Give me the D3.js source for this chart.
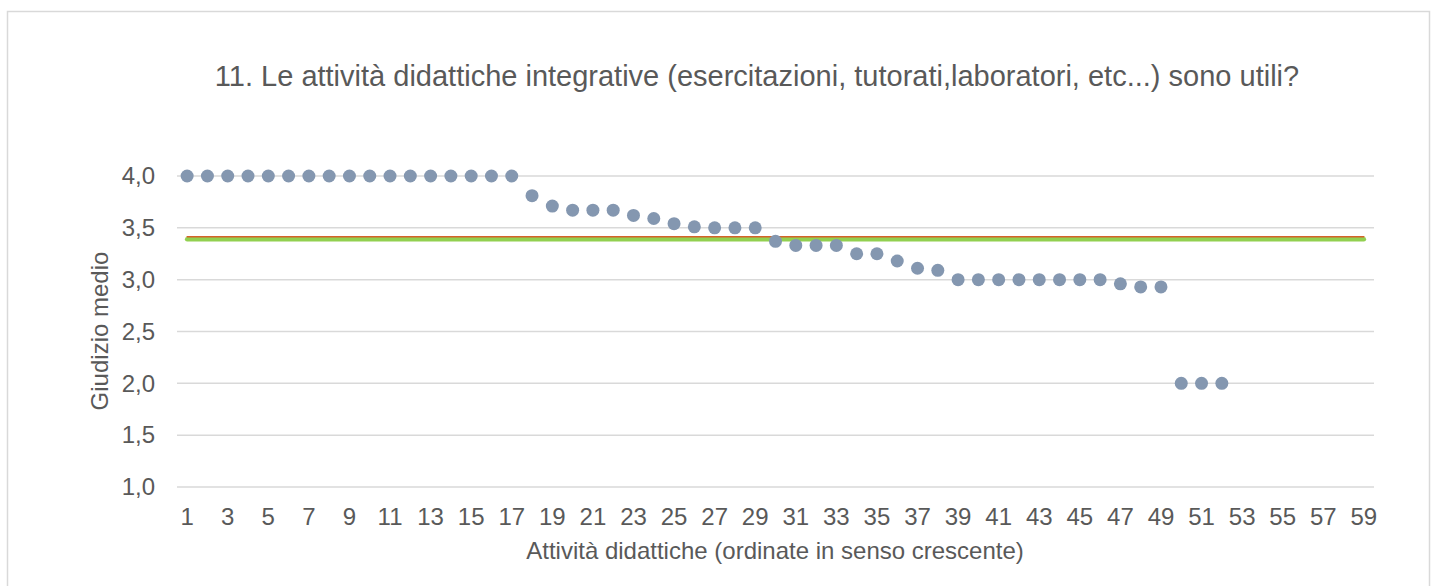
<!DOCTYPE html>
<html><head><meta charset="utf-8">
<script src="https://cdn.jsdelivr.net/npm/d3@7"></script>
<style>body{margin:0;background:#fff;}svg{display:block;font-family:"Liberation Sans",Arial,sans-serif;}</style>
</head><body>
<script>
const categories = d3.range(1, 60);
const scores = [4,4,4,4,4,4,4,4,4,4,4,4,4,4,4,4,4,3.81,3.71,3.67,3.67,3.67,3.62,3.59,3.54,3.51,3.5,3.5,3.5,3.37,3.33,3.33,3.33,3.25,3.25,3.18,3.11,3.09,3,3,3,3,3,3,3,3,2.96,2.93,2.93,2,2,2];
const meanRed = 3.415;
const meanGreen = 3.39;
const yTicks = [1,1.5,2,2.5,3,3.5,4];
const title = "11. Le attività didattiche integrative (esercitazioni, tutorati,laboratori, etc...) sono utili?";
const xTitle = "Attività didattiche (ordinate in senso crescente)";
const yTitle = "Giudizio medio";

const W = 1437, H = 586;
const svg = d3.select("body").append("svg").attr("width", W).attr("height", H);
svg.append("rect").attr("x", 7.5).attr("y", 11.5).attr("width", 1422).attr("height", 600)
  .attr("fill", "#fff").attr("stroke", "#d9d9d9").attr("stroke-width", 1.5);

const x = d3.scaleBand().domain(categories).range([177, 1374]);
const y = d3.scaleLinear().domain([1, 4]).range([487, 176]);
const cx = d => x(d) + x.bandwidth() / 2;

// gridlines
svg.append("g").selectAll("line").data(yTicks).join("line")
  .attr("x1", 177).attr("x2", 1374).attr("y1", d => y(d)).attr("y2", d => y(d))
  .attr("stroke", "#d9d9d9").attr("stroke-width", 1.5);

// y axis labels
const yAxis = svg.append("g").attr("transform", "translate(177,0)")
  .call(d3.axisLeft(y).tickValues(yTicks).tickSize(0).tickPadding(22)
    .tickFormat(d => d3.format(".1f")(d).replace(".", ",")));
yAxis.select(".domain").remove();
yAxis.selectAll("text").attr("fill", "#595959").style("font-size", "24px").style("font-family", "Liberation Sans, Arial, sans-serif");

// x axis labels
const xAxis = svg.append("g").attr("transform", "translate(0,487)")
  .call(d3.axisBottom(x).tickValues(categories.filter(d => d % 2 === 1)).tickSize(0).tickPadding(21));
xAxis.select(".domain").remove();
xAxis.selectAll("text").attr("fill", "#595959").style("font-size", "24px").style("font-family", "Liberation Sans, Arial, sans-serif");

// mean lines
const first = categories[0], last = categories[categories.length - 1];
svg.append("line").attr("x1", cx(first)).attr("x2", cx(last)).attr("y1", y(meanGreen)).attr("y2", y(meanGreen))
  .attr("stroke", "#92d050").attr("stroke-width", 4.5).attr("stroke-linecap", "round");
svg.append("line").attr("x1", cx(first)).attr("x2", cx(last)).attr("y1", y(meanRed)).attr("y2", y(meanRed))
  .attr("stroke", "#d4622a").attr("stroke-width", 1.5).attr("stroke-linecap", "round");

// dots
svg.append("g").selectAll("circle").data(scores).join("circle")
  .attr("cx", (d, i) => cx(categories[i])).attr("cy", d => y(d)).attr("r", 6.5)
  .attr("fill", "#8497b0");

// titles
svg.append("text").attr("x", 757).attr("y", 86).attr("text-anchor", "middle")
  .attr("fill", "#595959").style("font-size", "29px").text(title);
svg.append("text").attr("x", 775).attr("y", 559).attr("text-anchor", "middle")
  .attr("fill", "#595959").style("font-size", "24px").text(xTitle);
svg.append("text").attr("transform", "translate(108,331) rotate(-90)").attr("text-anchor", "middle")
  .attr("fill", "#595959").style("font-size", "24px").text(yTitle);
</script>
</body></html>
